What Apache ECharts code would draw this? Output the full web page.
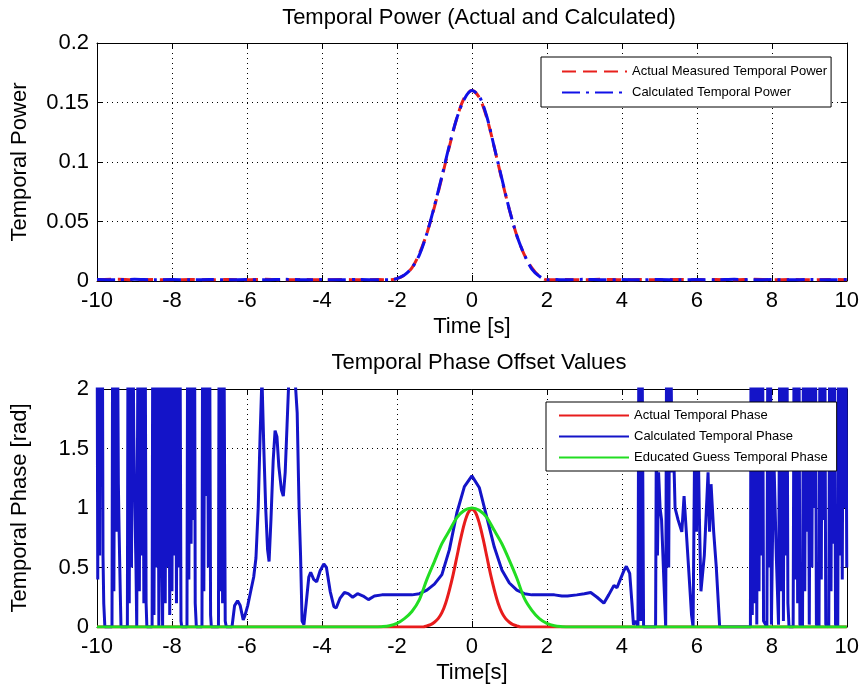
<!DOCTYPE html>
<html>
<head>
<meta charset="utf-8">
<script src="https://cdn.jsdelivr.net/npm/echarts@6/dist/echarts.min.js"></script>
<style>html,body{margin:0;padding:0;background:#fff}#c{width:862px;height:693px}</style>
</head>
<body>
<div id="c"></div>
<script>
// ---- Top panel: temporal power ----
var powerTime = [-10,-9.5,-9,-8.5,-8,-7.5,-7,-6.5,-6,-5.5,-5,-4.5,-4,-3.5,-3,-2.5,-2.2,
  -2.0,-1.8,-1.6,-1.4,-1.2,-1.0,-0.8,-0.6,-0.4,-0.2,0,0.2,0.4,0.6,0.8,1.0,1.2,1.4,1.6,1.8,2.0,
  2.2,2.5,3,3.5,4,4.5,5,5.5,6,6.5,7,7.5,8,8.5,9,9.5,10];
var measuredPower = [0.001,0.0015,0.001,0.0012,0.001,0.0013,0.001,0.0012,0.001,0.0014,0.001,0.0012,0.001,0.0013,0.001,0.0012,0.001,
  0.002,0.005,0.011,0.023,0.040,0.062,0.087,0.113,0.137,0.154,0.160,0.154,0.137,0.112,0.085,0.060,0.038,0.022,0.011,0.004,0.001,
  0.001,0.0012,0.001,0.0014,0.001,0.0012,0.001,0.0013,0.001,0.0012,0.001,0.0014,0.001,0.0012,0.001,0.0013,0.001];
var calculatedPower = [0.0012,0.001,0.0014,0.001,0.0012,0.001,0.0013,0.001,0.0012,0.001,0.0014,0.001,0.0012,0.001,0.0013,0.001,0.001,
  0.002,0.005,0.011,0.022,0.040,0.063,0.088,0.114,0.137,0.153,0.160,0.155,0.138,0.112,0.086,0.060,0.038,0.022,0.010,0.004,0.001,
  0.0012,0.001,0.0014,0.001,0.0012,0.001,0.0013,0.001,0.0012,0.001,0.0014,0.001,0.0012,0.001,0.0013,0.001,0.0012];

// ---- Bottom panel: temporal phase ----
var actualTime = [-10,-1.5,-1.4,-1.3,-1.2,-1.1,-1.0,-0.9,-0.8,-0.7,-0.6,-0.5,-0.4,-0.3,-0.2,-0.1,0,
  0.1,0.2,0.3,0.4,0.5,0.6,0.7,0.8,0.9,1.0,1.1,1.2,1.3,1.4,1.5,10];
var actualPhase = [0,0,0,0,0.01,0.02,0.04,0.07,0.12,0.2,0.31,0.44,0.59,0.74,0.87,0.96,0.99,
  0.96,0.87,0.74,0.59,0.44,0.31,0.2,0.12,0.07,0.04,0.02,0.01,0,0,0,0];

var guessTime = [-10,-2.6,-2.4,-2.2,-2.0,-1.8,-1.6,-1.4,-1.2,-1.0,-0.8,-0.6,-0.4,-0.2,0,
  0.2,0.4,0.6,0.8,1.0,1.2,1.4,1.6,1.8,2.0,2.2,2.4,2.6,10];
var guessPhase = [0,0,0.003,0.01,0.03,0.07,0.13,0.23,0.40,0.55,0.70,0.81,0.92,0.98,1.0,
  0.98,0.92,0.81,0.70,0.56,0.41,0.24,0.14,0.07,0.03,0.01,0.003,0,0];

var calcTime = [
  -10,-9.98,-9.96,-9.93,-9.91,-9.88,-9.86,-9.84,-9.82,-9.79,
  -9.60,-9.58,-9.55,-9.52,-9.49,-9.46,-9.43,-9.41,-9.38,-9.36,
  -9.19,-9.17,-9.14,-9.11,-9.08,-9.05,-9.02,-8.99,-8.96,-8.94,
  -8.92,-8.90,-8.87,-8.84,-8.81,-8.78,-8.75,-8.72,-8.69,-8.67,
  -8.53,-8.51,-8.48,-8.45,-8.42,-8.38,-8.35,-8.32,-8.28,-8.25,
  -8.21,-8.18,-8.15,-8.12,-8.09,-8.06,-8.03,
  -8.00,-7.97,-7.94,-7.91,-7.88,-7.85,-7.82,-7.79,-7.76,-7.74,
  -7.60,-7.58,-7.55,-7.52,-7.49,-7.46,-7.43,-7.40,-7.38,-7.35,
  -7.20,-7.18,-7.15,-7.12,-7.09,-7.06,-7.03,-7.00,-6.97,-6.95,
  -6.76,-6.74,-6.71,-6.68,-6.65,-6.62,-6.58,-6.55,
  -6.40,-6.33,-6.25,-6.18,-6.10,-6.05,-5.98,-5.90,-5.82,-5.76,-5.70,-5.65,-5.60,-5.55,-5.50,-5.45,-5.41,
  -5.36,-5.30,-5.25,-5.20,-5.15,-5.08,-5.03,-4.98,-4.93,-4.88,-4.80,-4.72,-4.66,-4.61,-4.57,-4.53,
  -4.48,-4.42,-4.35,-4.30,-4.22,-4.14,-4.05,-3.95,-3.88,-3.78,-3.68,-3.62,-3.52,-3.40,-3.30,-3.18,
  -3.05,-2.90,-2.76,-2.60,-2.40,-2.20,-2.00,-1.80,-1.60,-1.40,-1.20,-1.00,-0.80,-0.60,-0.40,-0.20,
  0,0.20,0.40,0.60,0.80,1.00,1.20,1.40,1.60,1.80,2.00,2.20,2.40,2.55,2.80,3.00,3.17,3.34,3.52,3.65,
  3.79,3.87,3.96,4.05,4.12,4.21,4.27,4.31,4.38,
  4.43,4.46,4.50,4.53,4.58,
  4.90,4.92,4.95,4.98,5.02,5.06,5.12,5.17,5.20,5.25,5.29,5.34,5.38,5.42,5.50,5.60,5.66,5.72,5.78,5.86,5.90,
  5.95,5.99,6.03,6.07,6.11,6.20,6.30,6.34,6.38,6.45,6.52,6.61,
  7.43,7.45,7.48,7.51,7.54,7.57,7.60,7.63,7.66,7.69,7.72,7.75,7.78,
  7.87,7.90,7.93,7.96,7.99,8.05,8.12,8.18,
  8.22,8.25,8.28,8.31,8.34,8.37,8.40,8.43,8.46,
  8.57,8.60,8.63,8.66,8.69,8.72,8.75,
  8.82,8.85,8.88,8.91,8.94,8.97,9.00,
  9.04,9.07,9.10,9.13,9.16,9.19,
  9.26,9.29,9.32,9.35,9.38,9.41,9.44,
  9.52,9.55,9.58,9.61,9.64,9.67,9.70,
  9.76,9.79,9.82,9.85,9.88,9.91,9.94,9.97,10];
var calcPhase = [
  3,0.4,3,0.6,3,1.2,3,0.6,0.2,0,
  0,3,0.3,3,0.8,3,1.2,0.8,0.3,0,
  0,3,0.2,3,0.5,3,1.65,1.0,0.5,0,
  0,3,0.3,3,0.6,3,0.2,3,0.2,0,
  0,3,0.1,3,0.5,3,0.0,3,0.8,0,
  3,0.2,3,0.5,3,0.1,3,
  0.3,3,0.6,3,0.2,3,0.5,3,0.05,0,
  0,3,0.4,3,0.7,3,0.9,3,0.2,0,
  0,3,0.3,3,1.1,3,0.5,3,0.1,0,
  0,3,0.3,3,0.2,3,0.05,0,
  0,0.18,0.22,0.18,0.06,0.10,0.18,0.30,0.42,0.58,1.0,1.6,2.1,1.5,1.0,0.65,0.55,
  0.9,1.4,1.65,1.6,1.35,1.15,1.1,1.3,1.7,2.1,2.4,2.1,1.8,1.0,0.6,0.05,
  0.02,0.2,0.42,0.46,0.40,0.38,0.47,0.53,0.50,0.30,0.17,0.16,0.24,0.29,0.28,0.25,
  0.28,0.26,0.23,0.26,0.27,0.27,0.27,0.27,0.27,0.28,0.31,0.36,0.44,0.65,0.96,1.18,
  1.27,1.17,0.92,0.67,0.48,0.37,0.31,0.28,0.27,0.27,0.27,0.27,0.26,0.26,0.27,0.28,0.29,0.25,0.20,0.27,
  0.35,0.33,0.40,0.47,0.51,0.45,0.20,0.02,0.05,
  0,3,0.05,3,0,
  0,1.6,0.6,1.3,1.0,0.9,0.4,0,3,0.5,3,1.3,1.5,1.0,0.9,0.8,1.1,0.8,0.5,0.1,0,
  1.8,0.8,1.7,0.9,0.3,0.6,1.3,0.8,1.2,0.8,0.5,0,
  0,3,0.1,3,0.2,3,0.02,3,0.3,3,0.6,3,0.05,
  0,3,0.5,3,0.02,1.5,0.6,0.02,
  3,0.3,3,0.05,3,0.6,3,0.2,0,
  0,3,0.4,3,0.2,3,0.02,
  0,3,0.3,3,0.8,3,0.02,
  3,0.5,3,1.0,3,0.02,
  0,3,0.4,3,0.9,3,0.02,
  0,3,0.3,3,0.7,3,0.02,
  0,3,0.6,3,0.4,3,1.0,3,0.5];

var xTicks = ['-10','-8','-6','-4','-2','0','2','4','6','8','10'];

function pairs(t, v) { return t.map(function (x, i) { return [x, v[i]]; }); }

var FONT = 'Liberation Sans, Arial, sans-serif';
var FS = 22;
var grid0 = { left: 97, top: 43, width: 754, height: 238 };
var grid1 = { left: 97, top: 389, width: 754, height: 238 };

function xMain(gi, name) {
  return {
    type: 'value', gridIndex: gi, min: -10, max: 10, interval: 2, position: 'bottom',
    name: name, nameLocation: 'middle', nameGap: 35,
    nameTextStyle: { fontSize: FS, color: '#000', fontFamily: FONT },
    axisLine: { show: true, onZero: false, lineStyle: { color: '#000', width: 1 } },
    axisTick: { show: true, inside: true, length: 6, lineStyle: { color: '#000' } },
    axisLabel: { fontSize: FS, color: '#000', fontFamily: FONT, margin: 9,
      formatter: function (v) { return xTicks[Math.round((v + 10) / 2)]; } },
    splitLine: { show: true, lineStyle: { color: '#000', type: [1, 4], width: 1 } }
  };
}
function xTop(gi) {
  return {
    type: 'value', gridIndex: gi, min: -10, max: 10, interval: 2, position: 'top',
    axisLine: { show: true, onZero: false, lineStyle: { color: '#000', width: 1 } },
    axisTick: { show: true, inside: true, length: 6, lineStyle: { color: '#000' } },
    axisLabel: { show: false }, splitLine: { show: false }
  };
}
function yMain(gi, max, interval, name) {
  return {
    type: 'value', gridIndex: gi, min: 0, max: max, interval: interval, position: 'left',
    name: name, nameLocation: 'middle', nameGap: 66, nameRotate: 90,
    nameTextStyle: { fontSize: FS, color: '#000', fontFamily: FONT },
    axisLine: { show: true, onZero: false, lineStyle: { color: '#000', width: 1 } },
    axisTick: { show: true, inside: true, length: 6, lineStyle: { color: '#000' } },
    axisLabel: { fontSize: FS, color: '#000', fontFamily: FONT, margin: 8 },
    splitLine: { show: true, lineStyle: { color: '#000', type: [1, 4], width: 1 } }
  };
}
function yRight(gi, max, interval) {
  return {
    type: 'value', gridIndex: gi, min: 0, max: max, interval: interval, position: 'right',
    axisLine: { show: true, onZero: false, lineStyle: { color: '#000', width: 1 } },
    axisTick: { show: true, inside: true, length: 6, lineStyle: { color: '#000' } },
    axisLabel: { show: false }, splitLine: { show: false }
  };
}

var chart = echarts.init(document.getElementById('c'), null, { renderer: 'canvas' });
chart.setOption({
  animation: false,
  backgroundColor: '#fff',
  title: [
    { text: 'Temporal Power (Actual and Calculated)', left: 474, top: 2, textAlign: 'center',
      textStyle: { fontSize: FS, fontWeight: 'normal', color: '#000', fontFamily: FONT } },
    { text: 'Temporal Phase Offset Values', left: 474, top: 347, textAlign: 'center',
      textStyle: { fontSize: FS, fontWeight: 'normal', color: '#000', fontFamily: FONT } }
  ],
  grid: [grid0, grid1],
  xAxis: [xMain(0, 'Time [s]'), xTop(0), xMain(1, 'Time[s]'), xTop(1)],
  yAxis: [yMain(0, 0.2, 0.05, 'Temporal Power'), yRight(0, 0.2, 0.05),
          yMain(1, 2, 0.5, 'Temporal Phase [rad]'), yRight(1, 2, 0.5)],
  legend: [
    { data: ['Actual Measured Temporal Power', 'Calculated Temporal Power'],
      orient: 'vertical', left: 541, top: 57, itemWidth: 65, itemHeight: 14, itemGap: 8,
      padding: [8, 4, 8, 20], backgroundColor: '#fff', borderColor: '#000', borderWidth: 1,
      borderRadius: 0, z: 20, itemStyle: { opacity: 0 },
      textStyle: { fontSize: 13, color: '#000', fontFamily: FONT } },
    { data: ['Actual Temporal Phase', 'Calculated Temporal Phase', 'Educated Guess Temporal Phase'],
      orient: 'vertical', left: 546, top: 402, itemWidth: 70, itemHeight: 14, itemGap: 8,
      padding: [7, 9, 7, 12], backgroundColor: '#fff', borderColor: '#000', borderWidth: 1,
      borderRadius: 0, z: 20, itemStyle: { opacity: 0 },
      textStyle: { fontSize: 13, color: '#000', fontFamily: FONT } }
  ],
  series: [
    { name: 'Actual Measured Temporal Power', type: 'line', xAxisIndex: 0, yAxisIndex: 0,
      data: pairs(powerTime, measuredPower), symbol: 'none', smooth: 0.3,
      lineStyle: { color: '#e8201c', width: 3, type: [14, 7] }, itemStyle: { color: '#e8201c' } },
    { name: 'Calculated Temporal Power', type: 'line', xAxisIndex: 0, yAxisIndex: 0,
      data: pairs(powerTime, calculatedPower), symbol: 'none', smooth: 0.3,
      lineStyle: { color: '#1010e8', width: 3, type: [18, 6, 3, 6] }, itemStyle: { color: '#1010e8' } },
    { name: 'Actual Temporal Phase', type: 'line', xAxisIndex: 2, yAxisIndex: 2,
      data: pairs(actualTime, actualPhase), symbol: 'none', smooth: 0.3, clip: true,
      lineStyle: { color: '#e81c1c', width: 3 }, itemStyle: { color: '#e81c1c' } },
    { name: 'Calculated Temporal Phase', type: 'line', xAxisIndex: 2, yAxisIndex: 2,
      data: pairs(calcTime, calcPhase), symbol: 'none', clip: true,
      lineStyle: { color: '#1414c8', width: 3 }, itemStyle: { color: '#1414c8' } },
    { name: 'Educated Guess Temporal Phase', type: 'line', xAxisIndex: 2, yAxisIndex: 2,
      data: pairs(guessTime, guessPhase), symbol: 'none', smooth: 0.3, clip: true,
      lineStyle: { color: '#22dd22', width: 3 }, itemStyle: { color: '#22dd22' } }
  ]
});
</script>
</body>
</html>
